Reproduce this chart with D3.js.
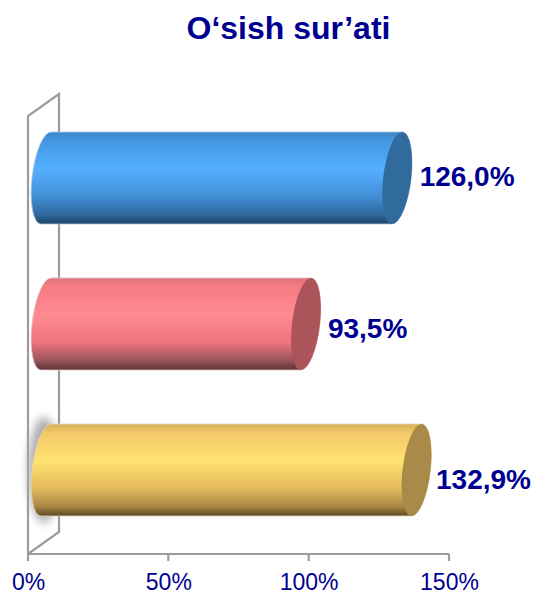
<!DOCTYPE html>
<html><head><meta charset="utf-8">
<script src="https://cdnjs.cloudflare.com/ajax/libs/d3/7.8.5/d3.min.js"></script>
<style>html,body{margin:0;padding:0;background:#fff}svg{display:block}text{font-family:"Liberation Sans",Arial,sans-serif}</style>
</head><body><svg id="c" width="533" height="592"></svg>
<script>
const titleText = "O‘sish sur’ati";
const categories = ["A","B","C"];
const values = [126.0, 93.5, 132.9];
const valueLabels = ["126,0%","93,5%","132,9%"];
const tickValues = [0,50,100,150];
const tickLabels = ["0%","50%","100%","150%"];
const bodyStops = [
  [["0","#3c86c8"],["0.1","#4298e2"],["0.4","#55b0ff"],["0.7","#428fd6"],["0.9","#2f699e"],["1","#1c4464"]],
  [["0","#dc747c"],["0.1","#f87c84"],["0.4","#ff8a92"],["0.7","#ee747c"],["0.9","#96545a"],["1","#5c3236"]],
  [["0","#d8b05a"],["0.1","#f2ca68"],["0.4","#ffe170"],["0.7","#e4ba5e"],["0.9","#a88644"],["1","#5e4822"]]
];
const capColors = ["#316b9e","#ab555a","#a98a48"];
const rimColors = ["#a9c6e0","#e6c0c3","#e0d6b8"];
const labelPad = [22.5,22,19.5];
const labelDy = [8,14,19];

const svg = d3.select("#c");
const x = d3.scaleLinear().domain([0,150]).range([28,449]);
const y = d3.scaleBand().domain(categories).range([105,543]).paddingInner(0.37).paddingOuter(0.185);
const defs = svg.append("defs");
defs.append("filter").attr("id","blur").attr("x","-100%").attr("y","-30%").attr("width","300%").attr("height","160%")
  .append("feGaussianBlur").attr("stdDeviation",4);
bodyStops.forEach((st,i)=>{
  const g = defs.append("linearGradient").attr("id","g"+i).attr("x1",0).attr("y1",0).attr("x2",0).attr("y2",1);
  st.forEach(s=>g.append("stop").attr("offset",s[0]).attr("stop-color",s[1]));
});

svg.append("text").attr("x",288.5).attr("y",39).attr("text-anchor","middle")
  .attr("font-size",32).attr("font-weight","bold").attr("fill","#000090").text(titleText);

// 3D wall and floor
const dx = 31, dy = 22, y0 = 554, yTop = 116;
const wall = svg.append("g").attr("fill","none").attr("stroke","#9c9c9c").attr("stroke-width",2.2);
wall.append("path").attr("d",d3.line()([[x(0),y0],[x(0),yTop],[x(0)+dx,yTop-dy],[x(0)+dx,y0-dy],[x(0),y0]]));
wall.append("path").attr("d",d3.line()([[x(0),y0],[x(150),y0]]));
wall.selectAll("line").data(tickValues).join("line")
  .attr("x1",d=>x(d)).attr("x2",d=>x(d)).attr("y1",y0).attr("y2",y0+7);

svg.append("g").selectAll("text").data(tickValues).join("text")
  .attr("x",d=>x(d)+0.5).attr("y",590).attr("text-anchor","middle")
  .attr("font-size",23).attr("fill","#000090").text((d,i)=>tickLabels[i]);

// bars
const ry = y.bandwidth()/2, rx = 14, skew = Math.atan(5/46)*180/Math.PI;
categories.forEach((c,i)=>{
  const cy = y(c)+ry, left = x(0)+18, right = x(values[i])+15.5, L = right-left;
  if(i===2){
    svg.append("ellipse").attr("cx",left-2).attr("cy",cy).attr("rx",rx+2).attr("ry",ry+7)
      .attr("fill","#b0b0b0").attr("filter","url(#blur)");
  }
  const g = svg.append("g").attr("transform",`translate(${left},${cy}) skewX(${-skew})`);
  g.append("path").attr("d",`M0,${-ry}A${rx},${ry} 0 0 0 0,${ry}L${L},${ry}A${rx},${ry} 0 0 0 ${L},${-ry}Z`)
    .attr("fill",`url(#g${i})`).attr("stroke",rimColors[i]).attr("stroke-width",0.8);
  g.append("ellipse").attr("cx",L).attr("cy",0).attr("rx",rx).attr("ry",ry).attr("fill",capColors[i]);
  svg.append("text").attr("x",right+labelPad[i]).attr("y",cy+labelDy[i])
    .attr("font-size",28).attr("font-weight","bold").attr("fill","#000090").text(valueLabels[i]);
});
</script></body></html>
